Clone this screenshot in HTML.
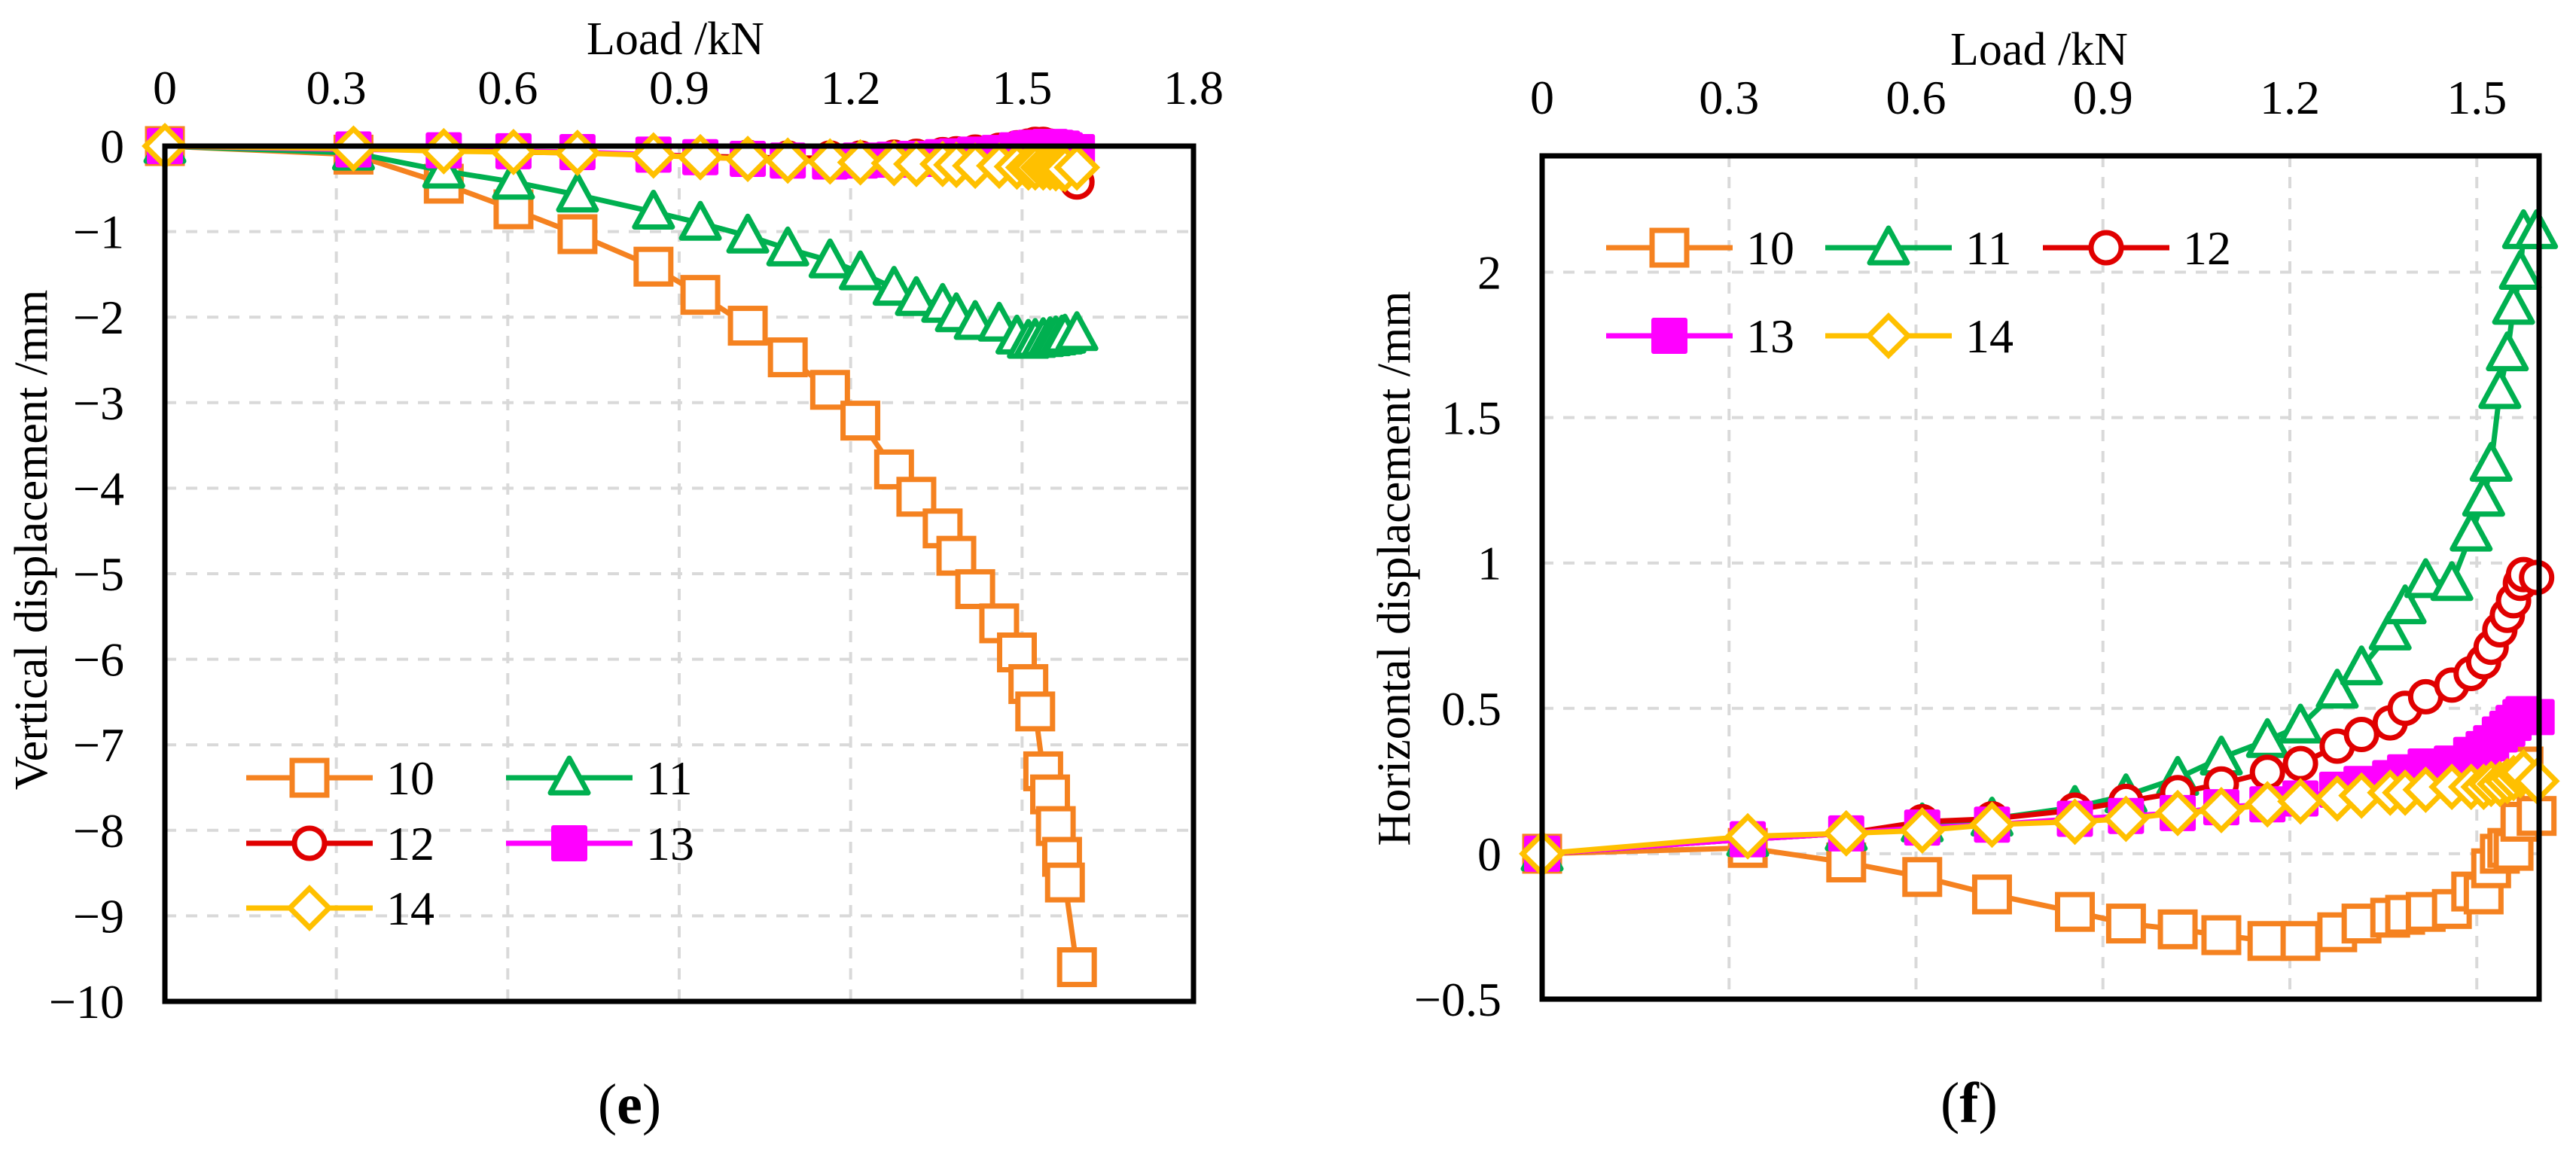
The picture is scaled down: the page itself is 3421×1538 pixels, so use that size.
<!DOCTYPE html>
<html><head><meta charset="utf-8"><style>
html,body{margin:0;padding:0;background:#fff;}
svg{display:block;}
text{font-family:"Liberation Serif",serif;fill:#000;}
</style></head><body>
<svg id="fig" width="3421" height="1538" viewBox="0 0 3421 1538" xmlns="http://www.w3.org/2000/svg"></svg>
<script>
// ---- shared data ----
const loadSteps = [0,0.33,0.488,0.61,0.722,0.855,0.937,1.02,1.09,1.164,1.217,1.276,1.315,1.361,1.385,1.418,1.46,1.491,1.511,1.523,1.537,1.549,1.559,1.57,1.575,1.596];
// panel (e) vertical displacement
const vert10 = [0,-0.1,-0.44,-0.74,-1.03,-1.41,-1.74,-2.1,-2.47,-2.85,-3.21,-3.78,-4.1,-4.47,-4.79,-5.18,-5.58,-5.92,-6.29,-6.61,-7.31,-7.58,-7.95,-8.31,-8.61,-9.6];
const vert11 = [0,-0.08,-0.29,-0.42,-0.57,-0.77,-0.9,-1.05,-1.2,-1.34,-1.48,-1.66,-1.78,-1.86,-1.97,-2.06,-2.08,-2.23,-2.28,-2.27,-2.26,-2.25,-2.24,-2.23,-2.22,-2.19];
const vert12 = [0,-0.02,-0.05,-0.07,-0.08,-0.1,-0.12,-0.13,-0.14,-0.14,-0.14,-0.13,-0.12,-0.1,-0.09,-0.07,-0.05,-0.02,0,0.02,0.02,0,-0.05,-0.15,-0.3,-0.42];
const vert13 = [0,-0.04,-0.05,-0.06,-0.07,-0.1,-0.13,-0.15,-0.17,-0.18,-0.17,-0.16,-0.15,-0.13,-0.12,-0.1,-0.08,-0.05,-0.03,-0.02,-0.02,-0.01,-0.02,-0.03,-0.05,-0.07];
const vert14 = [0,-0.03,-0.06,-0.07,-0.08,-0.11,-0.13,-0.15,-0.17,-0.18,-0.19,-0.2,-0.21,-0.21,-0.22,-0.23,-0.23,-0.24,-0.25,-0.25,-0.25,-0.25,-0.26,-0.26,-0.27,-0.25];
// panel (f) horizontal displacement
const hor10 = [0,0.02,-0.03,-0.08,-0.14,-0.2,-0.24,-0.26,-0.28,-0.3,-0.3,-0.27,-0.24,-0.22,-0.21,-0.2,-0.19,-0.13,-0.14,-0.05,0,0.02,0.01,0.11,0.3,0.13];
const hor11 = [0,0.05,0.07,0.1,0.12,0.16,0.2,0.26,0.33,0.39,0.44,0.56,0.64,0.76,0.85,0.94,0.93,1.1,1.22,1.34,1.59,1.72,1.88,2.0,2.14,2.14];
const hor12 = [0,0.05,0.07,0.11,0.12,0.15,0.18,0.21,0.24,0.28,0.31,0.37,0.41,0.45,0.5,0.54,0.58,0.62,0.66,0.71,0.77,0.82,0.87,0.93,0.96,0.95];
const hor13 = [0,0.05,0.07,0.09,0.1,0.12,0.13,0.14,0.16,0.17,0.19,0.22,0.24,0.26,0.28,0.3,0.31,0.34,0.36,0.38,0.41,0.43,0.45,0.47,0.48,0.47];
const hor14 = [0,0.06,0.07,0.08,0.1,0.11,0.12,0.14,0.15,0.17,0.18,0.19,0.2,0.21,0.21,0.22,0.23,0.23,0.23,0.24,0.24,0.25,0.26,0.27,0.28,0.25];
const xTicksE = [0,0.3,0.6,0.9,1.2,1.5,1.8];
const yTicksE = [0,-1,-2,-3,-4,-5,-6,-7,-8,-9,-10];
const xTicksF = [0,0.3,0.6,0.9,1.2,1.5];
const yTicksF = [-0.5,0,0.5,1,1.5,2];
const seriesNames = ['10','11','12','13','14'];

const COL = {'10':'#F58220','11':'#00B050','12':'#E00000','13':'#FF00FF','14':'#FFC000'};
const MK = {'10':'square','11':'triangle','12':'circle','13':'fsquare','14':'diamond'};
const NS='http://www.w3.org/2000/svg';
const svg=document.getElementById('fig');
function el(tag,attrs,parent){const e=document.createElementNS(NS,tag);for(const k in attrs)e.setAttribute(k,attrs[k]);(parent||svg).appendChild(e);return e;}
function fmt(v){let s=String(v);if(v<0)s='\u2212'+String(-v);return s;}

function marker(g,type,cx,cy,color){
  let m;
  if(type==='square'){m=el('rect',{x:cx-23,y:cy-23,width:46,height:46,fill:'#fff',stroke:color,'stroke-width':7},g);}
  else if(type==='fsquare'){m=el('rect',{x:cx-24,y:cy-24,width:48,height:48,rx:3,fill:color,stroke:'none'},g);}
  else if(type==='triangle'){m=el('polygon',{points:`${cx},${cy-26} ${cx+25},${cy+20} ${cx-25},${cy+20}`,fill:'#fff',stroke:color,'stroke-width':7,'stroke-linejoin':'round'},g);}
  else if(type==='circle'){m=el('circle',{cx:cx,cy:cy,r:20,fill:'#fff',stroke:color,'stroke-width':7},g);}
  else {m=el('polygon',{points:`${cx},${cy-26} ${cx+26},${cy} ${cx},${cy+26} ${cx-26},${cy}`,fill:'#fff',stroke:color,'stroke-width':7},g);}
  return m;
}

function panel(o){
  const g=el('g',{});
  
  
  const sx=v=>o.x0+(v-o.xmin)/(o.xmax-o.xmin)*(o.x1-o.x0);
  const sy=v=>o.y1-(v-o.ymin)/(o.ymax-o.ymin)*(o.y1-o.y0);
  o.xt.forEach(t=>{const x=sx(t);if(Math.abs(x-o.x0)>2&&Math.abs(x-o.x1)>2){const l=el('line',{x1:x,y1:o.y0,x2:x,y2:o.y1,stroke:'#d9d9d9','stroke-width':4,'stroke-dasharray':'15 13'},g);}});
  o.yt.forEach(t=>{const y=sy(t);if(Math.abs(y-o.y0)>2&&Math.abs(y-o.y1)>2){const l=el('line',{x1:o.x0,y1:y,x2:o.x1,y2:y,stroke:'#d9d9d9','stroke-width':4,'stroke-dasharray':'15 13'},g);}});
  o.xt.forEach(t=>{const tx=el('text',{x:sx(t),y:o.y0-56,'font-size':64,'text-anchor':'middle'},g);tx.textContent=fmt(t);});
  o.yt.forEach(t=>{const tx=el('text',{x:o.x0-54,y:sy(t)+22,'font-size':64,'text-anchor':'end'},g);tx.textContent=fmt(t);});
  const xt=el('text',{x:o.xtitleX,y:o.xtitleY,'font-size':62,'text-anchor':'middle'},g);xt.textContent='Load /kN';
  
  const yt=el('text',{x:0,y:0,'font-size':62,'text-anchor':'middle',transform:`translate(${o.ytitleX},${o.ytitleY}) rotate(-90)`},g);yt.textContent=o.ytitle;
  
  o.series.forEach((vals,i)=>{
    const nm=seriesNames[i];const c=COL[nm];
    const sg=el('g',{},g);
    
    
    const pts=loadSteps.map((x,j)=>sx(x)+','+sy(vals[j])).join(' ');
    const pl=el('polyline',{points:pts,fill:'none',stroke:c,'stroke-width':7,'stroke-linejoin':'round'},sg);
    
    
    loadSteps.forEach((x,j)=>{const m=marker(sg,MK[nm],sx(x),sy(vals[j]),c);
      
      });
  });
  const fr=el('rect',{x:o.x0,y:o.y0,width:o.x1-o.x0,height:o.y1-o.y0,fill:'none',stroke:'#000','stroke-width':7},g);
  
  const lg=el('g',{},g);
  
  
  o.legend.forEach(L=>{
    const eg=el('g',{},lg);
    
    
    el('line',{x1:L.x,y1:L.y,x2:L.x+168,y2:L.y,stroke:COL[L.n],'stroke-width':7},eg);
    marker(eg,MK[L.n],L.x+84,L.y,COL[L.n]);
    const t=el('text',{x:L.x+186,y:L.y+22,'font-size':64},eg);t.textContent=L.n;
  });
  const cap=el('text',{x:o.capX,y:o.capY,'font-size':76,'text-anchor':'middle'},g);
  cap.innerHTML='(<tspan font-weight="bold">'+o.cap+'</tspan>)';
  
}

panel({name:'panel-e-vertical',x0:219,x1:1585,y0:194,y1:1330,xmin:0,xmax:1.8,ymin:-10,ymax:0,
  xt:xTicksE,yt:yTicksE,xtitleX:897,xtitleY:72,ytitleX:62,ytitleY:717,ytitle:'Vertical displacement /mm',
  series:[vert10,vert11,vert12,vert13,vert14],
  legend:[{n:'10',x:327,y:1033},{n:'11',x:672,y:1033},{n:'12',x:327,y:1120},{n:'13',x:672,y:1120},{n:'14',x:327,y:1206}],
  capX:836,capY:1492,cap:'e'});
panel({name:'panel-f-horizontal',x0:2048,x1:3372,y0:207,y1:1327,xmin:0,xmax:1.6,ymin:-0.5,ymax:2.4,
  xt:xTicksF,yt:yTicksF,xtitleX:2708,xtitleY:86,ytitleX:1872,ytitleY:755,ytitle:'Horizontal displacement /mm',
  series:[hor10,hor11,hor12,hor13,hor14],
  legend:[{n:'10',x:2133,y:329},{n:'11',x:2424,y:329},{n:'12',x:2713,y:329},{n:'13',x:2133,y:446},{n:'14',x:2424,y:446}],
  capX:2615,capY:1490,cap:'f'});
</script>
</body></html>
